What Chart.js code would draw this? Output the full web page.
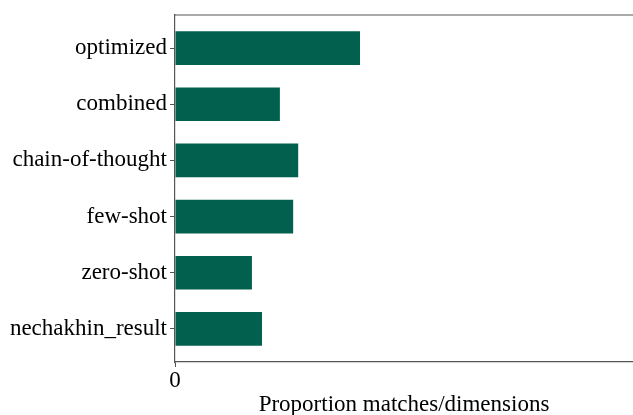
<!DOCTYPE html>
<html>
<head>
<meta charset="utf-8">
<script src="https://cdn.jsdelivr.net/npm/chart.js@4"></script>
<style>
  html, body { margin: 0; padding: 0; background: #fff; }
  #wrap { width: 633px; height: 415px; }
</style>
</head>
<body>
<div id="wrap"><canvas id="chart"></canvas></div>
<script>
// datos del grafico
const categorias = ['optimized', 'combined', 'chain-of-thought', 'few-shot', 'zero-shot', 'nechakhin_result'];
const proporciones = [0.404, 0.229, 0.269, 0.258, 0.168, 0.19];
const ticksX = [0];

const fuente = { family: '"Liberation Serif", "Times New Roman", serif', size: 23 };

// linea superior del marco
const bordeSuperior = {
    id: 'bordeSuperior',
    afterDraw(chart) {
        const { ctx, chartArea } = chart;
        ctx.save();
        ctx.strokeStyle = '#555';
        ctx.lineWidth = 1.2;
        ctx.beginPath();
        ctx.moveTo(chartArea.left, chartArea.top);
        ctx.lineTo(chartArea.right, chartArea.top);
        ctx.stroke();
        ctx.restore();
    }
};

new Chart(document.getElementById('chart'), {
    type: 'bar',
    data: {
        datasets: [{
            data: proporciones.map((v, i) => ({ x: v, y: i })),
            backgroundColor: '#02604f',
            barPercentage: 1,
            categoryPercentage: 0.6
        }]
    },
    options: {
        indexAxis: 'y',
        responsive: true,
        maintainAspectRatio: false,
        animation: false,
        layout: { padding: { top: 15, right: 0, left: 0, bottom: 0 } },
        plugins: { legend: { display: false }, tooltip: { enabled: false } },
        scales: {
            x: {
                type: 'linear',
                min: 0,
                max: 1,
                afterBuildTicks: scale => { scale.ticks = ticksX.map(v => ({ value: v })); },
                afterFit: scale => { scale.height = 53; scale.paddingLeft = 0; scale.paddingRight = 0; },
                grid: { drawOnChartArea: false, drawTicks: true, tickLength: 5, color: '#555' },
                border: { color: '#555', width: 1.2 },
                ticks: { color: '#000', font: fuente, padding: 0, maxRotation: 0 },
                title: { display: true, text: 'Proportion matches/dimensions', color: '#000', font: fuente, padding: { top: 0, bottom: -4 } }
            },
            y: {
                type: 'linear',
                reverse: true,
                offset: false,
                min: -0.59,
                max: 5.59,
                afterBuildTicks: scale => { scale.ticks = categorias.map((c, i) => ({ value: i })); },
                afterFit: scale => { scale.width = 175; scale.paddingTop = 0; scale.paddingBottom = 0; },
                grid: { offset: false, drawOnChartArea: false, drawTicks: true, tickLength: 5, color: '#555' },
                border: { color: '#555', width: 1.2 },
                ticks: {
                    color: '#000',
                    font: fuente,
                    padding: 3,
                    callback: v => categorias[v]
                }
            }
        }
    },
    plugins: [bordeSuperior]
});
</script>
</body>
</html>
